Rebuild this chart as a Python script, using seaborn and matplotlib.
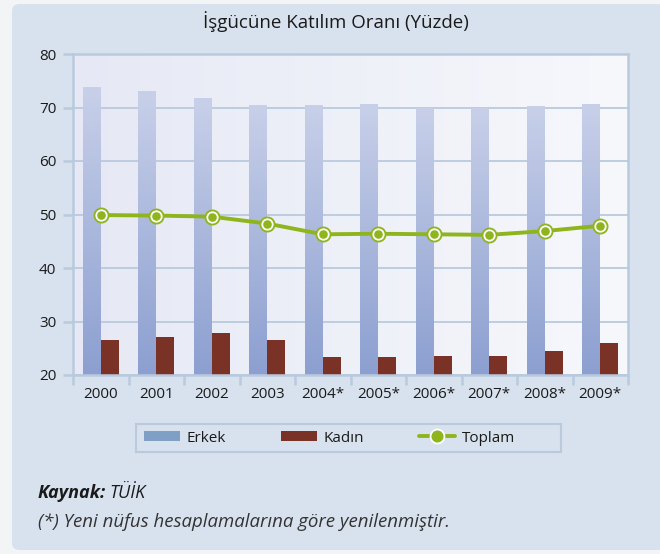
import matplotlib.pyplot as plt
import seaborn as sns
import numpy as np
import pandas as pd
from matplotlib.patches import FancyBboxPatch, Patch, Rectangle
from matplotlib.lines import Line2D

# Data (TÜİK, işgücüne katılım oranı)
years = ["2000", "2001", "2002", "2003", "2004*", "2005*", "2006*", "2007*", "2008*", "2009*"]
erkek = [73.7, 72.9, 71.6, 70.4, 70.3, 70.6, 69.9, 69.8, 70.1, 70.5]
kadin = [26.6, 27.1, 27.9, 26.6, 23.3, 23.3, 23.6, 23.6, 24.5, 26.0]
toplam = [49.9, 49.8, 49.6, 48.3, 46.3, 46.4, 46.3, 46.2, 46.9, 47.9]

df = pd.DataFrame({"yil": years * 2,
                   "oran": erkek + kadin,
                   "grup": ["Erkek"] * len(years) + ["Kadın"] * len(years)})

sns.set_theme(style="white")
plt.rcParams["font.family"] = ["Open Sans", "DejaVu Sans"]

panel_bg = "#d8e2ee"
grid_c = "#b9cadd"
blue_leg = "#809fc5"
red = "#7b3226"
green = "#8fb51d"
txt = "#1a1a1a"

fig = plt.figure(figsize=(6.6, 5.54), dpi=100)
fig.patch.set_facecolor("#f3f4f5")
fig.patches.append(FancyBboxPatch((12 / 660, 4 / 554), 0.99, 546 / 554,
                                  boxstyle="round,pad=0,rounding_size=0.012",
                                  transform=fig.transFigure, facecolor=panel_bg,
                                  edgecolor="none", zorder=-2))
# legend frame
fig.patches.append(Rectangle((136 / 660, 1 - 452 / 554), 425 / 660, 28 / 554,
                             transform=fig.transFigure, facecolor="none",
                             edgecolor=grid_c, lw=1.5, zorder=-1))

ax = fig.add_axes([73 / 660, 179 / 554, 555 / 660, 321 / 554])
ax.set_facecolor("#eceef8")

sns.barplot(data=df, x="yil", y="oran", hue="grup", palette=[blue_leg, red],
            width=0.64, ax=ax, legend=False, saturation=1, linewidth=0, zorder=2)

ax.set_xlim(-0.5, len(years) - 0.5)
ax.set_ylim(20, 80)

# gradient plot background
bg = np.linspace(0, 1, 256).reshape(1, -1)
ax.imshow(bg, extent=[0, 1, 0, 1], transform=ax.transAxes, aspect="auto",
          cmap=sns.blend_palette(["#e6e9f5", "#f7f8fc"], as_cmap=True), zorder=0)

# vertical gradient on Erkek bars (only the visible part above 20)
grad = np.linspace(0, 1, 256).reshape(-1, 1)
cm_bar = sns.blend_palette(["#8c9fd0", "#c8d0e9"], as_cmap=True)
for p in ax.patches[:len(years)]:
    x0 = p.get_x()
    ax.imshow(grad, extent=[x0, x0 + p.get_width(), 20, p.get_y() + p.get_height()],
              origin="lower", aspect="auto", cmap=cm_bar, zorder=2.5)

xs = np.arange(len(years))
ax.plot(xs, toplam, color=green, lw=2.8, zorder=4)
ax.plot(xs, toplam, ls="none", marker="o", ms=10.5, mfc=green, mec=green, zorder=5)
ax.plot(xs, toplam, ls="none", marker="o", ms=7.5, mfc=green, mec="white", mew=1.3, zorder=6)

ax.set_xlim(-0.5, len(years) - 0.5)
ax.set_ylim(20, 80)
ax.set_yticks(range(20, 81, 10))
ax.grid(axis="y", color=grid_c, lw=1.3)
for gl in ax.get_ygridlines():
    gl.set_zorder(1)
ax.set_xlabel("")
ax.set_ylabel("")

ax.set_xticks(xs)
ax.set_xticks(np.arange(-0.5, len(years), 1), minor=True)
ax.tick_params(axis="x", which="major", length=0, labelsize=11, labelcolor=txt, pad=9)
ax.tick_params(axis="x", which="minor", length=7, width=1.8, color=grid_c, direction="out", bottom=True)
ax.tick_params(axis="y", length=7, width=1.8, color=grid_c, direction="out", left=True,
               labelsize=11, labelcolor=txt, pad=5)
for s in ax.spines.values():
    s.set_color(grid_c)
    s.set_linewidth(1.8)

fig.text(336 / 660, 1 - 22 / 554, "İşgücüne Katılım Oranı (Yüzde)", ha="center", va="center",
         fontsize=13.5, color=txt)

handles = [Patch(facecolor=blue_leg, edgecolor="none", label="Erkek"),
           Patch(facecolor=red, edgecolor="none", label="Kadın"),
           Line2D([], [], color=green, lw=2.8, marker="o", ms=10, mfc=green, mec="white",
                  mew=1.3, label="Toplam")]
leg = fig.legend(handles=handles, ncol=3, loc="center left",
                 bbox_to_anchor=(144 / 660, 1 - 438 / 554),
                 frameon=False, fontsize=11, handlelength=2.35, handleheight=0.55,
                 borderaxespad=0, borderpad=0, handletextpad=0.45, columnspacing=3.6)
for t in leg.get_texts():
    t.set_color(txt)

fig.text(38 / 660, 1 - 493 / 554, "Kaynak:", fontsize=13, fontweight="bold", style="italic",
         color=txt, va="center")
fig.text(109 / 660, 1 - 493 / 554, "TÜİK", fontsize=13, style="italic", color=txt, va="center")
fig.text(38 / 660, 1 - 522 / 554, "(*) Yeni nüfus hesaplamalarına göre yenilenmiştir.",
         fontsize=13.4, style="italic", color="#333333", va="center")

fig.savefig("out.png", dpi=100)
